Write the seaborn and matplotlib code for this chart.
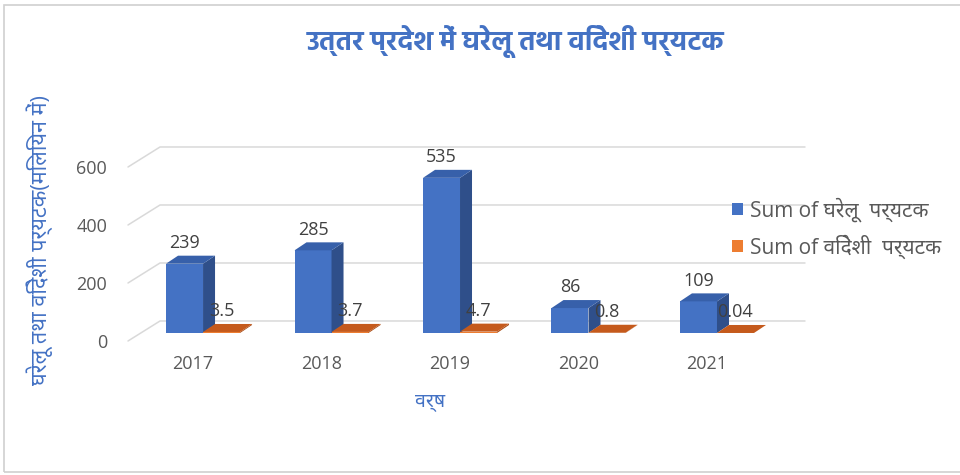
import numpy as np
import pandas as pd
import matplotlib
matplotlib.use('Agg')
import matplotlib.pyplot as plt
import seaborn as sns
from matplotlib.patches import Polygon, Rectangle
from matplotlib.lines import Line2D
from matplotlib.transforms import ScaledTranslation, IdentityTransform


# chart data
years = ['2017', '2018', '2019', '2020', '2021']
domestic = [239, 285, 535, 86, 109]
foreign = [3.5, 3.7, 4.7, 0.8, 0.04]
domestic_labels = ['239', '285', '535', '86', '109']
foreign_labels = ['3.5', '3.7', '4.7', '0.8', '0.04']
series_names = ['Sum of घरेलू  पर्यटक', 'Sum of विदेशी  पर्यटक']
yticks = [0, 200, 400, 600]

title = 'उत्तर प्रदेश में घरेलू तथा विदेशी पर्यटक'
ylabel = 'घरेलू तथा विदेशी पर्यटक(मिलियन में)'
xlabel = 'वर्ष'

df = pd.DataFrame({
    'year': years * 2,
    'value': domestic + foreign,
    'series': [series_names[0]] * len(years) + [series_names[1]] * len(years),
})

front_colors = ['#4472C4', '#ED7D31']
side_colors = ['#2F4F8A', '#A84B14']
top_colors = ['#3760AA', '#C55A1C']

sns.set_theme(style='white')
plt.rcParams['font.family'] = ['Open Sans', 'Noto Sans Devanagari', 'DejaVu Sans']

W, H = 960, 475
fig = plt.figure(figsize=(W / 100, H / 100), dpi=100)
ax = fig.add_axes([128 / W, (H - 345) / H, (805 - 128) / W, (345 - 140) / H])

sns.barplot(data=df, x='year', y='value', hue='series', palette=front_colors,
            width=0.576, gap=0, saturation=1, edgecolor='none', ax=ax,
            legend=False, zorder=3)

ax.set_xlim(-0.584, 4.685)
ax.set_ylim(-41.4, 665.5)
ax.set_autoscale_on(False)
for s in ax.spines.values():
    s.set_visible(False)
ax.set_xlabel('')
ax.set_ylabel('')

# 3d look: depth in pixels
dx, dy = 12, 8
ident = IdentityTransform()

# back wall gridlines with slanted left part
xl = ax.get_xlim()[0]
for v in yticks:
    px, py = ax.transData.transform((xl, v))
    fy = py - 8
    line = Line2D([px, px + 32, 805], [fy, fy + 20, fy + 20], color='#D9D9D9',
                  lw=1.1, transform=ident, zorder=1, clip_on=False)
    ax.add_artist(line)

# side and top faces, drawn from the seaborn bars
for i, cont in enumerate(ax.containers):
    for bar in cont:
        x0, w, h = bar.get_x(), bar.get_width(), bar.get_height()
        (l, b), (r, t) = ax.transData.transform([(x0, 0), (x0 + w, h)])
        side = Polygon([(r, b), (r + dx, b + dy), (r + dx, t + dy), (r, t)],
                       closed=True, facecolor=side_colors[i], edgecolor='none',
                       transform=ident, zorder=3 + i)
        top = Polygon([(l, t), (r, t), (r + dx, t + dy), (l + dx, t + dy)],
                      closed=True, facecolor=top_colors[i], edgecolor='none',
                      transform=ident, zorder=3 + i)
        ax.add_patch(side)
        ax.add_patch(top)
        bar.set_zorder(3 + i)

# data labels
for cont, labels in zip(ax.containers, [domestic_labels, foreign_labels]):
    for bar, lab in zip(cont, labels):
        ax.annotate(lab, xy=(bar.get_x() + bar.get_width() / 2, bar.get_height()),
                    xytext=(0, 15), textcoords='offset points', ha='center',
                    va='center', fontsize=13, color='#404040', zorder=6)

# ticks
ax.set_yticks(yticks)
ax.set_yticklabels([str(v) for v in yticks])
ax.tick_params(axis='y', length=0, pad=15, labelsize=13, labelcolor='#595959')
ax.tick_params(axis='x', length=0, pad=7, labelsize=13, labelcolor='#595959')
for lab in ax.get_yticklabels():
    lab.set_transform(lab.get_transform() + ScaledTranslation(0, -0.08, fig.dpi_scale_trans))
for lab in ax.get_xticklabels():
    lab.set_transform(lab.get_transform() + ScaledTranslation(-0.10, 0, fig.dpi_scale_trans))

# legend
handles = [Rectangle((0, 0), 1, 1, facecolor=c, edgecolor='none') for c in front_colors]
fig.legend(handles, series_names, loc='center left',
           bbox_to_anchor=(722 / W, 1 - 228 / H), frameon=False, borderpad=0,
           handlelength=0.5, handleheight=0.5, handletextpad=0.35,
           labelspacing=0.6, fontsize=15, labelcolor='#595959')

# texts
fig.text(515 / W, 1 - 42 / H, title, ha='center', va='center', fontsize=19.5,
         fontweight='bold', color='#4472C4',
         family=['Hind', 'Noto Sans Devanagari', 'DejaVu Sans'])
fig.text(40 / W, 1 - 240 / H, ylabel, ha='center', va='center', rotation=90,
         fontsize=15.5, color='#4472C4')
fig.text(430 / W, 1 - 402 / H, xlabel, ha='center', va='center', fontsize=14,
         color='#4472C4')

# outer frame
fig.add_artist(Rectangle((4 / W, 3 / H), 1.2, (472 - 5) / H, transform=fig.transFigure,
                         fill=False, edgecolor='#D0D0D0', lw=1.2))

fig.savefig('out.png', dpi=100)
